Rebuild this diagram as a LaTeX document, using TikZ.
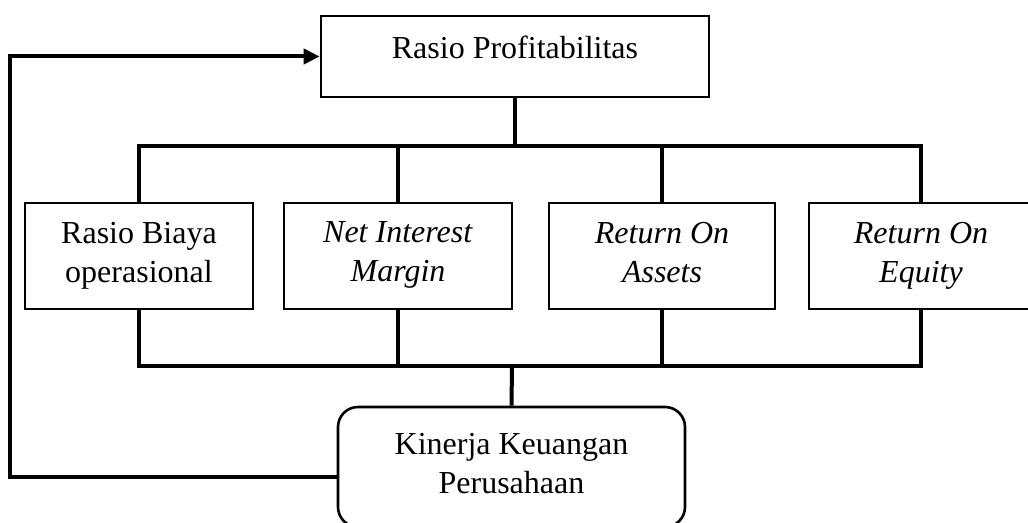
\documentclass[tikz,border=0pt]{standalone}
\usepackage{fontspec}
\setmainfont{Liberation Serif}
\usetikzlibrary{arrows.meta}
\tikzset{
  kotak/.style={draw, line width=1.3pt, align=center, inner sep=0pt, minimum height=53pt, text depth=4pt},
  garis/.style={line width=2pt},
}
\begin{document}
\begin{tikzpicture}[x=0.5pt, y=-0.5pt, font=\fontsize{16}{19.5}\selectfont]
\useasboundingbox (0,0) rectangle (1028,523);
\clip (0,0) rectangle (1028,523);

% kotak utama
\node[kotak, minimum width=194pt, minimum height=40.5pt] (profit) at (515,56.5) {};
\node (profitlbl) at (515,47) {Rasio Profitabilitas};

% indikator
\node[kotak, minimum width=114pt] (biaya) at (139,256) {Rasio Biaya\\operasional};
\node[kotak, minimum width=114pt] (nim) at (398,256) {\textit{Net Interest}\\\textit{Margin}};
\node[kotak, minimum width=113pt] (roa) at (662,256) {\textit{Return On}\\\textit{Assets}};
\node[kotak, minimum width=112pt] (roe) at (921,256) {\textit{Return On}\\\textit{Equity}};

\node[kotak, rounded corners=10pt, minimum width=173.5pt, minimum height=60pt] (kinerja) at (511.5,467) {Kinerja Keuangan\\Perusahaan};

\coordinate (atas) at (512,146);
\coordinate (bawah) at (512,366);
\coordinate (kiri) at (10,300);

\draw[garis] (profit.south) -- (profit.south |- atas);
\draw[garis] (biaya.north) |- (atas) -| (roe.north);
\draw[garis] (nim.north) -- (nim.north |- atas);
\draw[garis] (roa.north) -- (roa.north |- atas);

\draw[garis] (biaya.south) |- (bawah) -| (roe.south);
\draw[garis] (nim.south) -- (nim.south |- bawah);
\draw[garis] (roa.south) -- (roa.south |- bawah);
\draw[garis] (bawah) -- (kinerja.north);

% umpan balik
\draw[garis, -{Triangle[length=8pt, width=7.5pt]}] ([yshift=-5pt]kinerja.west) -| (kiri) |- (profit.west);
\end{tikzpicture}
\end{document}
